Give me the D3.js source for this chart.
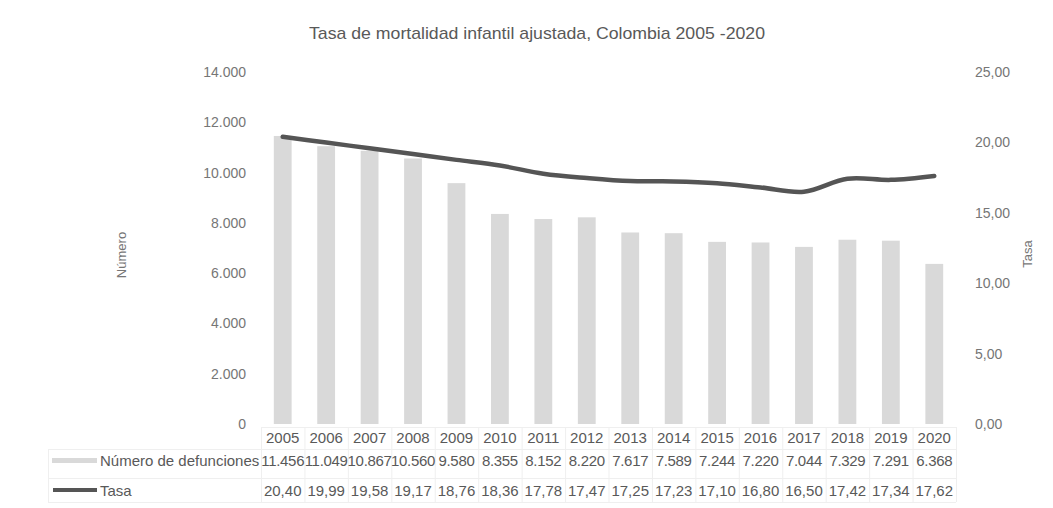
<!DOCTYPE html>
<html>
<head>
<meta charset="utf-8">
<script src="https://cdn.jsdelivr.net/npm/d3@7"></script>
<style>
  html, body { margin: 0; padding: 0; background: #fff; }
  svg { display: block; }
  text { font-family: "Liberation Sans Narrow", "Liberation Sans", Arial, sans-serif; }
</style>
</head>
<body>
<svg id="chart" width="1053" height="508"></svg>
<script>
// Infant mortality, Colombia 2005-2020
const years = ["2005","2006","2007","2008","2009","2010","2011","2012","2013","2014","2015","2016","2017","2018","2019","2020"];
const defunciones = [11456, 11049, 10867, 10560, 9580, 8355, 8152, 8220, 7617, 7589, 7244, 7220, 7044, 7329, 7291, 6368];
const tasa = [20.40, 19.99, 19.58, 19.17, 18.76, 18.36, 17.78, 17.47, 17.25, 17.23, 17.10, 16.80, 16.50, 17.42, 17.34, 17.62];
const leftTicks = [0, 2000, 4000, 6000, 8000, 10000, 12000, 14000];
const rightTicks = [0, 5, 10, 15, 20, 25];
const titleText = "Tasa de mortalidad infantil ajustada, Colombia 2005 -2020";
const seriesNames = ["Número de defunciones", "Tasa"];

const svg = d3.select("#chart");
const plot = { left: 261, right: 956, top: 72, bottom: 424 };

const textColor = "#595959";
const tickColor = "#767676";
const barColor = "#d9d9d9";
const lineColor = "#555555";

// Spanish number formats: "." thousands, "," decimals
const es = d3.formatLocale({ decimal: ",", thousands: ".", grouping: [3], currency: ["$", ""] });
const fmtInt = es.format(",d");
const fmtDec = es.format(",.2f");

const x = d3.scaleBand().domain(years).range([plot.left, plot.right]).paddingInner(0).paddingOuter(0);
const yL = d3.scaleLinear().domain([0, 14000]).range([plot.bottom, plot.top]);
const yR = d3.scaleLinear().domain([0, 25]).range([plot.bottom, plot.top]);

// Title
svg.append("text")
  .attr("x", 537).attr("y", 39)
  .attr("text-anchor", "middle")
  .attr("font-size", 17)
  .attr("fill", textColor)
  .attr("textLength", 456)
  .attr("lengthAdjust", "spacingAndGlyphs")
  .text(titleText);

// Left axis (labels only)
const axL = d3.axisLeft(yL).tickValues(leftTicks).tickFormat(fmtInt).tickSize(0).tickPadding(0);
const gL = svg.append("g").attr("transform", `translate(${plot.left - 15},0)`).call(axL);
gL.select(".domain").remove();
gL.selectAll("text").attr("font-size", 14).attr("fill", tickColor)
  .style("font-family", "'Liberation Sans Narrow', 'Liberation Sans', Arial, sans-serif");

// Right axis (labels only)
const axR = d3.axisRight(yR).tickValues(rightTicks).tickFormat(fmtDec).tickSize(0).tickPadding(0);
const gR = svg.append("g").attr("transform", `translate(${plot.right + 19},0)`).call(axR);
gR.select(".domain").remove();
gR.selectAll("text").attr("font-size", 14).attr("fill", tickColor)
  .style("font-family", "'Liberation Sans Narrow', 'Liberation Sans', Arial, sans-serif");

// Axis titles
svg.append("text")
  .attr("transform", `translate(126,255) rotate(-90)`)
  .attr("text-anchor", "middle")
  .attr("font-size", 13)
  .attr("fill", tickColor)
  .text("Número");
svg.append("text")
  .attr("transform", `translate(1032,254) rotate(-90)`)
  .attr("text-anchor", "middle")
  .attr("font-size", 13)
  .attr("fill", tickColor)
  .text("Tasa");

// Bars
const barW = x.bandwidth() * 0.41;
svg.append("g").selectAll("rect")
  .data(defunciones)
  .join("rect")
  .attr("x", (d, i) => x(years[i]) + (x.bandwidth() - barW) / 2)
  .attr("y", d => yL(d))
  .attr("width", barW)
  .attr("height", d => yL(0) - yL(d))
  .attr("fill", barColor);

// Rate line (smoothed)
const line = d3.line()
  .x((d, i) => x(years[i]) + x.bandwidth() / 2)
  .y(d => yR(d))
  .curve(d3.curveCatmullRom.alpha(0.5));
svg.append("path")
  .datum(tasa)
  .attr("d", line)
  .attr("fill", "none")
  .attr("stroke", lineColor)
  .attr("stroke-width", 4.5)
  .attr("stroke-linecap", "round")
  .attr("stroke-linejoin", "round");

// Data table below the plot
const rowY = { years: 427, defs: 449, tasa: 478, end: 502 };
const grid = svg.append("g").attr("stroke", "#efefef").attr("stroke-width", 1);
const tableLeft = 48;
[rowY.years, rowY.defs, rowY.tasa, rowY.end].forEach((yy, k) => {
  grid.append("line")
    .attr("x1", k === 0 ? plot.left : tableLeft).attr("x2", plot.right)
    .attr("y1", yy + 0.5).attr("y2", yy + 0.5);
});
[plot.left].concat(years.map(y => x(y) + x.bandwidth())).forEach(xx => {
  grid.append("line")
    .attr("x1", xx + 0.5).attr("x2", xx + 0.5)
    .attr("y1", rowY.years).attr("y2", rowY.end);
});
grid.append("line").attr("x1", tableLeft + 0.5).attr("x2", tableLeft + 0.5)
  .attr("y1", rowY.defs).attr("y2", rowY.end);

// Category labels
svg.append("g").selectAll("text")
  .data(years)
  .join("text")
  .attr("x", d => x(d) + x.bandwidth() / 2)
  .attr("y", 443)
  .attr("text-anchor", "middle")
  .attr("font-size", 15)
  .attr("fill", textColor)
  .text(d => d);

// Values rows
svg.append("g").selectAll("text")
  .data(defunciones)
  .join("text")
  .attr("x", (d, i) => x(years[i]) + x.bandwidth() / 2)
  .attr("y", 466)
  .attr("text-anchor", "middle")
  .attr("font-size", 15)
  .attr("letter-spacing", -0.3)
  .attr("fill", textColor)
  .text(d => fmtInt(d));

svg.append("g").selectAll("text")
  .data(tasa)
  .join("text")
  .attr("x", (d, i) => x(years[i]) + x.bandwidth() / 2)
  .attr("y", 496)
  .attr("text-anchor", "middle")
  .attr("font-size", 15)
  .attr("fill", textColor)
  .text(d => fmtDec(d));

// Legend keys in the table
svg.append("rect").attr("x", 52).attr("y", 458).attr("width", 45).attr("height", 5).attr("fill", barColor);
svg.append("line").attr("x1", 53).attr("x2", 97).attr("y1", 490).attr("y2", 490)
  .attr("stroke", lineColor).attr("stroke-width", 4);
svg.append("text").attr("x", 100).attr("y", 466).attr("font-size", 15).attr("fill", textColor).text(seriesNames[0]);
svg.append("text").attr("x", 100).attr("y", 496).attr("font-size", 15).attr("fill", textColor).text(seriesNames[1]);
</script>
</body>
</html>
